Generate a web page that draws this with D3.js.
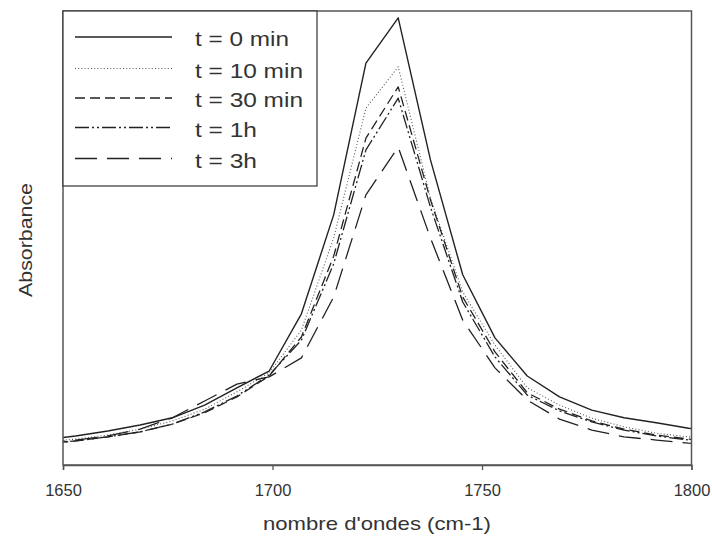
<!DOCTYPE html>
<html>
<head>
<meta charset="utf-8">
<script src="https://cdn.jsdelivr.net/npm/d3@7/dist/d3.min.js"></script>
<style>
  html, body { margin: 0; padding: 0; background: #fff; }
  svg { display: block; }
  text { font-family: Arial, "Liberation Sans", sans-serif; fill: #333; }
</style>
</head>
<body>
<svg id="chart" width="712" height="539"></svg>
<script>
// IR spectra of the carbonyl band at successive times (arbitrary absorbance units)
const wavenumbers = [1645.3, 1653.0, 1660.7, 1668.4, 1676.1, 1683.8, 1691.5, 1699.2, 1706.9, 1714.6, 1722.3,
                     1730.0, 1737.7, 1745.4, 1753.1, 1760.8, 1768.5, 1776.2, 1783.9, 1791.6, 1799.3, 1807.0];

const absT0   = [0.055, 0.064, 0.075, 0.088, 0.104, 0.132, 0.170, 0.207, 0.333, 0.551, 0.885,
                 0.985, 0.672, 0.419, 0.280, 0.196, 0.150, 0.121, 0.104, 0.093, 0.081, 0.075];
const absT10  = [0.051, 0.057, 0.066, 0.079, 0.097, 0.123, 0.161, 0.203, 0.297, 0.500, 0.786,
                 0.877, 0.588, 0.381, 0.264, 0.170, 0.132, 0.103, 0.084, 0.070, 0.062, 0.057];
const absT30  = [0.046, 0.053, 0.062, 0.073, 0.090, 0.115, 0.150, 0.196, 0.282, 0.460, 0.720,
                 0.833, 0.584, 0.370, 0.249, 0.159, 0.123, 0.097, 0.079, 0.066, 0.057, 0.053];
const absT1h  = [0.046, 0.053, 0.062, 0.073, 0.090, 0.117, 0.152, 0.198, 0.275, 0.443, 0.694,
                 0.808, 0.568, 0.359, 0.238, 0.154, 0.119, 0.095, 0.077, 0.064, 0.055, 0.051];
const absT3h  = [0.048, 0.055, 0.064, 0.079, 0.104, 0.141, 0.178, 0.194, 0.236, 0.370, 0.595,
                 0.700, 0.500, 0.319, 0.214, 0.143, 0.101, 0.077, 0.062, 0.055, 0.048, 0.044];

const seriesLabels = ["t = 0 min", "t = 10 min", "t = 30 min", "t = 1h", "t = 3h"];
const xTicks = [1650, 1700, 1750, 1800];

const series = [
  { name: seriesLabels[0], values: absT0,  dash: null,               color: "#222", width: 1.4 },
  { name: seriesLabels[1], values: absT10, dash: "1,2.2",            color: "#555", width: 1.1 },
  { name: seriesLabels[2], values: absT30, dash: "10,5",             color: "#222", width: 1.3 },
  { name: seriesLabels[3], values: absT1h, dash: "14,3,2,3,2,3",     color: "#222", width: 1.3 },
  { name: seriesLabels[4], values: absT3h, dash: "22,10",            color: "#222", width: 1.3 }
];

const svg = d3.select("#chart");
const plot = { left: 63, right: 691.5, top: 11, bottom: 465 };

const x = d3.scaleLinear().domain([1650, 1800]).range([plot.left, plot.right]);
const y = d3.scaleLinear().domain([0, 1]).range([plot.bottom, plot.top]);

svg.append("defs").append("clipPath").attr("id", "plotClip")
  .append("rect")
  .attr("x", plot.left).attr("y", plot.top)
  .attr("width", plot.right - plot.left).attr("height", plot.bottom - plot.top);

// spectra
const line = d3.line().x(d => x(d[0])).y(d => y(d[1]));
const curves = svg.append("g").attr("clip-path", "url(#plotClip)");
series.forEach(s => {
  curves.append("path")
    .datum(wavenumbers.map((w, i) => [w, s.values[i]]))
    .attr("d", line)
    .attr("fill", "none")
    .attr("stroke", s.color)
    .attr("stroke-width", s.width)
    .attr("stroke-dasharray", s.dash)
    .attr("stroke-linejoin", "round");
});

// frame
svg.append("rect")
  .attr("x", plot.left).attr("y", plot.top)
  .attr("width", plot.right - plot.left).attr("height", plot.bottom - plot.top)
  .attr("fill", "none").attr("stroke", "#555").attr("stroke-width", 1.5);

// bottom axis
const xAxis = d3.axisBottom(x).tickValues(xTicks).tickSize(5).tickPadding(14).tickFormat(d3.format("d"));
const gx = svg.append("g").attr("transform", `translate(0,${plot.bottom})`).call(xAxis);
gx.select(".domain").attr("stroke", "#555").attr("stroke-width", 1.5);
gx.selectAll(".tick line").attr("stroke", "#555").attr("stroke-width", 1.3);
gx.selectAll(".tick text").attr("font-size", 16.5).attr("fill", "#333")
  .attr("font-family", "Arial, 'Liberation Sans', sans-serif");

// axis titles
svg.append("text")
  .attr("x", 377).attr("y", 530)
  .attr("text-anchor", "middle")
  .attr("font-size", 19)
  .attr("textLength", 228).attr("lengthAdjust", "spacingAndGlyphs")
  .text("nombre d'ondes (cm-1)");

svg.append("text")
  .attr("transform", "translate(32,240) rotate(-90)")
  .attr("text-anchor", "middle")
  .attr("font-size", 19)
  .attr("textLength", 114).attr("lengthAdjust", "spacingAndGlyphs")
  .text("Absorbance");

// legend
const legend = svg.append("g");
legend.append("rect")
  .attr("x", plot.left).attr("y", plot.top)
  .attr("width", 254).attr("height", 175)
  .attr("fill", "#fff").attr("stroke", "#333").attr("stroke-width", 1.2);

const rowY = [37, 68.5, 98, 127.5, 158.5];
const labelWidths = [94, 108, 108, 62, 62];
series.forEach((s, i) => {
  legend.append("line")
    .attr("x1", 75).attr("x2", 172)
    .attr("y1", rowY[i]).attr("y2", rowY[i])
    .attr("stroke", s.color).attr("stroke-width", s.width)
    .attr("stroke-dasharray", s.dash);
  legend.append("text")
    .attr("x", 195).attr("y", rowY[i] + 9)
    .attr("font-size", 20)
    .attr("textLength", labelWidths[i]).attr("lengthAdjust", "spacingAndGlyphs")
    .text(s.name);
});
</script>
</body>
</html>
